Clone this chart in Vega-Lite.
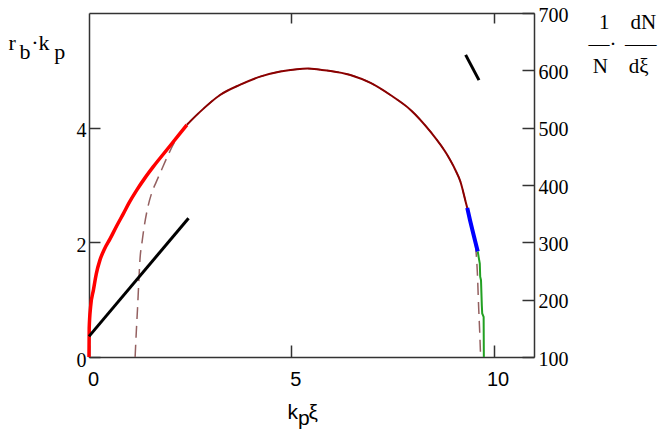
{
  "$schema": "https://vega.github.io/schema/vega-lite/v6.json",
  "width": 445,
  "height": 344,
  "autosize": "none",
  "padding": {"left": 89, "top": 13, "right": 125, "bottom": 78},
  "background": "white",
  "config": {"view": {"stroke": null}},
  "datasets": {
    "dash": [
      {"x": 1.14, "y": 0}, {"x": 1.17, "y": 0.45}, {"x": 1.2, "y": 0.85}, {"x": 1.23, "y": 1.3},
      {"x": 1.26, "y": 1.7}, {"x": 1.31, "y": 2.0}, {"x": 1.37, "y": 2.3}, {"x": 1.45, "y": 2.6},
      {"x": 1.55, "y": 2.86}, {"x": 1.66, "y": 3.05}, {"x": 1.76, "y": 3.21}, {"x": 1.96, "y": 3.53},
      {"x": 2.1, "y": 3.73}, {"x": 2.25, "y": 3.9}, {"x": 2.42, "y": 4.05}, {"x": 2.75, "y": 4.28},
      {"x": 3.24, "y": 4.57}, {"x": 3.74, "y": 4.75}, {"x": 4.23, "y": 4.89}, {"x": 4.73, "y": 4.98},
      {"x": 5.14, "y": 5.02}, {"x": 5.4, "y": 5.03}, {"x": 5.72, "y": 5.01}, {"x": 5.97, "y": 4.99},
      {"x": 6.46, "y": 4.92}, {"x": 6.96, "y": 4.78}, {"x": 7.45, "y": 4.57}, {"x": 7.95, "y": 4.31},
      {"x": 8.44, "y": 3.93}, {"x": 8.85, "y": 3.53}, {"x": 9.05, "y": 3.27}, {"x": 9.18, "y": 3.06},
      {"x": 9.31, "y": 2.71}, {"x": 9.35, "y": 2.6}, {"x": 9.42, "y": 2.38}, {"x": 9.5, "y": 2.15},
      {"x": 9.56, "y": 1.9}, {"x": 9.6, "y": 1.47}, {"x": 9.63, "y": 0.9}, {"x": 9.66, "y": 0.4},
      {"x": 9.68, "y": 0}
    ],
    "red": [
      {"x": 0, "y": 0}, {"x": 0.005, "y": 0.5}, {"x": 0.04, "y": 0.88}, {"x": 0.11, "y": 1.17},
      {"x": 0.18, "y": 1.45}, {"x": 0.27, "y": 1.69}, {"x": 0.38, "y": 1.88}, {"x": 0.52, "y": 2.06},
      {"x": 0.68, "y": 2.28}, {"x": 0.85, "y": 2.5}, {"x": 1.0, "y": 2.7}, {"x": 1.18, "y": 2.91},
      {"x": 1.38, "y": 3.12}, {"x": 1.59, "y": 3.32}, {"x": 1.92, "y": 3.61}, {"x": 2.25, "y": 3.9},
      {"x": 2.42, "y": 4.05}
    ],
    "lin": [{"x": 0, "y": 0.36}, {"x": 2.46, "y": 2.42}],
    "arc": [
      {"x": 2.42, "y": 4.05}, {"x": 2.75, "y": 4.28}, {"x": 3.24, "y": 4.57}, {"x": 3.74, "y": 4.75},
      {"x": 4.23, "y": 4.89}, {"x": 4.73, "y": 4.98}, {"x": 5.14, "y": 5.02}, {"x": 5.4, "y": 5.03},
      {"x": 5.72, "y": 5.01}, {"x": 5.97, "y": 4.99}, {"x": 6.46, "y": 4.92}, {"x": 6.96, "y": 4.78},
      {"x": 7.45, "y": 4.57}, {"x": 7.95, "y": 4.31}, {"x": 8.44, "y": 3.93}, {"x": 8.85, "y": 3.53},
      {"x": 9.05, "y": 3.27}, {"x": 9.18, "y": 3.06}, {"x": 9.31, "y": 2.71}, {"x": 9.35, "y": 2.6}
    ],
    "blue": [
      {"x": 9.35, "y": 2.6}, {"x": 9.42, "y": 2.38}, {"x": 9.5, "y": 2.15}, {"x": 9.56, "y": 1.98},
      {"x": 9.61, "y": 1.84}
    ],
    "green": [
      {"x": 9.61, "y": 1.84}, {"x": 9.63, "y": 1.75}, {"x": 9.66, "y": 1.63}, {"x": 9.67, "y": 1.4},
      {"x": 9.69, "y": 1.34}, {"x": 9.71, "y": 0.9}, {"x": 9.72, "y": 0.76}, {"x": 9.755, "y": 0.7},
      {"x": 9.76, "y": 0}
    ],
    "seg": [{"x": 9.31, "y": 627}, {"x": 9.64, "y": 583}]
  },
  "layer": [
    {
      "encoding": {
        "x": {
          "field": "x", "type": "quantitative",
          "scale": {"domain": [0, 11], "nice": false, "zero": false},
          "axis": {
            "values": [0, 5, 10], "grid": false, "tickSize": -12, "tickWidth": 1.5, "tickColor": "#333",
            "domainColor": "#333", "domainWidth": 1.5,
            "labelFont": "Liberation Sans", "labelFontSize": 20, "labelColor": "#000",
            "labelPadding": 24, "labelOffset": 4, "labelFlush": false,
            "title": ["k\u2002ξ", "\u200B\u2002p"], "titleFont": "Liberation Sans", "titleFontSize": 21,
            "titleFontWeight": "normal", "titleColor": "#000", "titleAngle": 0,
            "titleAlign": "left", "titleBaseline": "alphabetic", "titleX": 198, "titleY": 61,
            "titleLineHeight": 6
          }
        },
        "y": {
          "field": "y", "type": "quantitative",
          "scale": {"domain": [0, 6], "nice": false, "zero": false},
          "axis": {
            "values": [0, 2, 4], "grid": false, "tickSize": -11, "tickWidth": 1.5, "tickColor": "#333",
            "domainColor": "#333", "domainWidth": 1.5,
            "labelFont": "Liberation Serif", "labelFontSize": 20, "labelColor": "#000",
            "labelPadding": 14, "labelOffset": 3, "labelFlush": false, "labelBaseline": "middle",
            "title": ["r\u2002\u2009·k", "\u200B\u2002b\u2003\u200Ap"], "titleFont": "Liberation Serif", "titleFontSize": 22,
            "titleFontWeight": "normal", "titleColor": "#000", "titleAngle": 0,
            "titleAlign": "left", "titleBaseline": "alphabetic", "titleX": -81, "titleY": 36,
            "titleLineHeight": 9
          }
        }
      },
      "layer": [
        {"data": {"name": "dash"}, "mark": {"type": "line", "color": "#946060", "strokeWidth": 1.5, "strokeDash": [12, 7], "interpolate": "monotone"}},
        {"data": {"name": "red"}, "mark": {"type": "line", "color": "#ff0000", "strokeWidth": 3.5, "interpolate": "monotone"}},
        {"data": {"name": "lin"}, "mark": {"type": "line", "color": "#000000", "strokeWidth": 3}},
        {"data": {"name": "arc"}, "mark": {"type": "line", "color": "#8b0000", "strokeWidth": 2, "interpolate": "monotone"}},
        {"data": {"name": "blue"}, "mark": {"type": "line", "color": "#0000ff", "strokeWidth": 4}},
        {"data": {"name": "green"}, "mark": {"type": "line", "color": "#22a022", "strokeWidth": 2}}
      ]
    },
    {
      "data": {"name": "seg"},
      "mark": {"type": "line", "color": "#000000", "strokeWidth": 3},
      "encoding": {
        "x": {
          "field": "x", "type": "quantitative",
          "scale": {"domain": [0, 11], "nice": false, "zero": false},
          "axis": {
            "orient": "top", "values": [5, 10], "labels": false, "grid": false, "tickSize": -10,
            "tickWidth": 1.5, "tickColor": "#333", "domainColor": "#333", "domainWidth": 1.5, "title": null
          }
        },
        "y": {
          "field": "y", "type": "quantitative",
          "scale": {"domain": [100, 700], "nice": false, "zero": false},
          "axis": {
            "orient": "right", "values": [100, 200, 300, 400, 500, 600, 700], "grid": false,
            "tickSize": -12, "tickWidth": 1.5, "tickColor": "#333", "domainColor": "#333", "domainWidth": 1.5,
            "labelFont": "Liberation Serif", "labelFontSize": 20, "labelColor": "#000",
            "labelPadding": 16, "labelOffset": 2, "labelFlush": false, "labelBaseline": "middle",
            "title": ["\u200B\u20021\u2003dN", "—·\u2009\u2009—–", "\u200B\u2009N\u2003dξ"], "titleFont": "Liberation Serif",
            "titleFontSize": 21, "titleFontWeight": "normal", "titleColor": "#000", "titleAngle": 0,
            "titleAlign": "left", "titleBaseline": "alphabetic", "titleX": 54, "titleY": 15,
            "titleLineHeight": 22
          }
        }
      }
    }
  ],
  "resolve": {"scale": {"y": "independent"}, "axis": {"x": "independent", "y": "independent"}}
}
